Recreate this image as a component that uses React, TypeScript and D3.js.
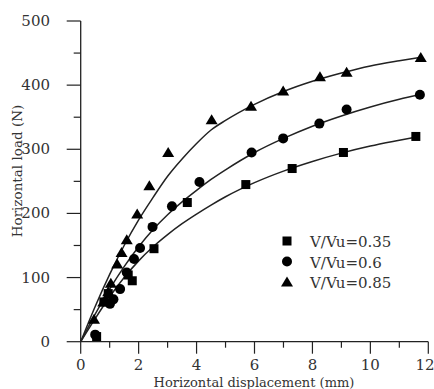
import * as d3 from 'd3'

// measured points (x in mm, y in N)
const sq035 = [
  [0.55, 8], [0.8, 62], [0.95, 75], [1.64, 104], [1.78, 95], [2.53, 145],
  [3.68, 217], [5.7, 245], [7.3, 270], [9.07, 295], [11.57, 320],
]
const ci06 = [
  [0.5, 11], [1.01, 59], [1.13, 66], [1.36, 82], [1.59, 108], [1.84, 129],
  [2.05, 146], [2.48, 179], [3.15, 211], [4.1, 249], [5.9, 295], [6.99, 317],
  [8.24, 340], [9.18, 362], [11.71, 385],
]
const tr085 = [
  [0.46, 35], [0.78, 62], [0.95, 78], [1.04, 91], [1.26, 121], [1.41, 139],
  [1.59, 159], [1.95, 199], [2.37, 243], [3.02, 295], [4.52, 346], [5.88, 367],
  [6.99, 391], [8.26, 413], [9.18, 420], [11.74, 443],
]

// fitted curves
const fit035 = [
  [0, 0], [0.5, 36], [1, 70], [1.5, 100], [2, 126], [2.5, 148], [3, 167], [3.5, 184],
  [4, 199], [4.5, 213], [5, 226], [6, 248], [7, 266], [8, 281], [9, 294], [10, 305],
  [11, 314], [11.7, 320],
]
const fit06 = [
  [0, 0], [0.5, 43], [1, 82], [1.5, 117], [2, 148], [2.5, 175], [3, 198], [3.5, 218],
  [4, 236], [4.5, 253], [5, 268], [6, 295], [7, 317], [8, 336], [9, 352], [10, 366],
  [11, 378], [11.7, 385],
]
const fit085 = [
  [0, 0], [0.5, 55], [1, 105], [1.5, 150], [2, 190], [2.5, 225], [3, 258], [3.5, 285],
  [4, 309], [4.5, 330], [5, 345], [6, 370], [7, 390], [8, 406], [9, 419], [10, 430],
  [11, 438], [11.7, 443],
]

const xTicks = [0, 2, 4, 6, 8, 10, 12]
const xMinor = [1, 3, 5, 7, 9, 11]
const yTicks = [0, 100, 200, 300, 400, 500]
const yMinor = [50, 150, 250, 350, 450]
const legendLabels = ['V/Vu=0.35', 'V/Vu=0.6', 'V/Vu=0.85']

const txt = { fontFamily: "'DejaVu Serif', serif", fill: '#333' }
const ink = '#222'

function Marker({ kind, x, y }: { kind: string; x: number; y: number }) {
  if (kind === 'square') return <rect x={x - 4.5} y={y - 4.5} width={9} height={9} fill="#000" />
  if (kind === 'circle') return <circle cx={x} cy={y} r={5} fill="#000" />
  return <path d={`M${x},${y - 5.5}L${x + 6},${y + 4.5}L${x - 6},${y + 4.5}Z`} fill="#000" />
}

export default function App() {
  const x = d3.scaleLinear().domain([0, 12]).range([80.7, 428.3])
  const y = d3.scaleLinear().domain([0, 500]).range([341.7, 21])
  const line = d3.line<number[]>()
    .x(d => x(d[0]))
    .y(d => y(d[1]))
    .curve(d3.curveMonotoneX)

  const series = [
    { pts: sq035, fit: fit035, kind: 'square' },
    { pts: ci06, fit: fit06, kind: 'circle' },
    { pts: tr085, fit: fit085, kind: 'triangle' },
  ]

  return (
    <svg width={434} height={389} style={{ position: 'absolute', left: 0, top: 0, background: '#fff' }}>
      {/* axes */}
      <line x1={x(0)} x2={x(12)} y1={y(0)} y2={y(0)} stroke={ink} strokeWidth={1.3} />
      <line x1={x(0)} x2={x(0)} y1={y(0)} y2={y(500)} stroke={ink} strokeWidth={1.3} />
      {xTicks.map(t => (
        <g key={'xt' + t}>
          <line x1={x(t)} x2={x(t)} y1={y(0)} y2={y(0) + 12} stroke={ink} strokeWidth={1.2} />
          <text x={Math.min(x(t), 425)} y={370} textAnchor="middle" style={{ ...txt, fontSize: 15 }}>{t}</text>
        </g>
      ))}
      {xMinor.map(t => (
        <line key={'xm' + t} x1={x(t)} x2={x(t)} y1={y(0)} y2={y(0) + 6} stroke={ink} strokeWidth={1.2} />
      ))}
      {yTicks.map(t => (
        <g key={'yt' + t}>
          <line x1={x(0) - 14} x2={x(0)} y1={y(t)} y2={y(t)} stroke={ink} strokeWidth={1.2} />
          <text x={50} y={y(t) + 5} textAnchor="end" style={{ ...txt, fontSize: 15 }}>{t}</text>
        </g>
      ))}
      {yMinor.map(t => (
        <line key={'ym' + t} x1={x(0) - 7} x2={x(0)} y1={y(t)} y2={y(t)} stroke={ink} strokeWidth={1.2} />
      ))}
      <text x={254} y={387} textAnchor="middle" style={{ ...txt, fontSize: 13 }}>
        Horizontal displacement (mm)
      </text>
      <text transform="translate(22,171) rotate(-90)" textAnchor="middle" style={{ ...txt, fontSize: 13.5 }}>
        Horizontal load (N)
      </text>

      {/* curves and points */}
      {series.map(s => (
        <path key={'f' + s.kind} d={line(s.fit) || ''} fill="none" stroke={ink} strokeWidth={1.5} />
      ))}
      {series.map(s =>
        s.pts.map((p, i) => <Marker key={s.kind + i} kind={s.kind} x={x(p[0])} y={y(p[1])} />)
      )}

      {/* legend */}
      {series.map((s, i) => (
        <g key={'lg' + i}>
          <Marker kind={s.kind} x={287} y={241 + i * 20.5} />
          <text x={310} y={241 + i * 20.5 + 6} style={{ ...txt, fontSize: 15 }}>{legendLabels[i]}</text>
        </g>
      ))}
    </svg>
  )
}
